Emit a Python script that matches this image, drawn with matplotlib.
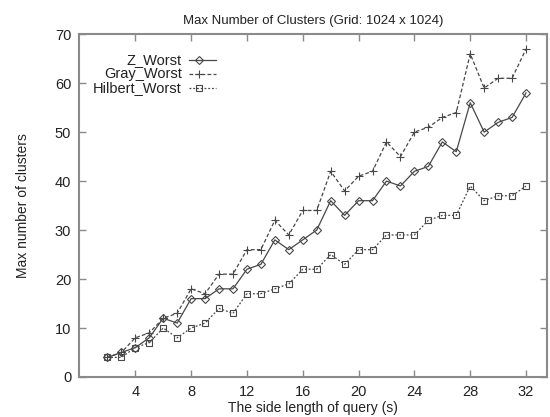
import matplotlib.pyplot as plt
import numpy as np

plt.rcParams['font.family'] = ['Liberation Sans', 'DejaVu Sans']

side = list(range(2, 33))
z_worst = [4, 5, 6, 8, 12, 11, 16, 16, 18, 18, 22, 23, 28, 26, 28, 30, 36, 33, 36, 36,
           40, 39, 42, 43, 48, 46, 56, 50, 52, 53, 58]
gray_worst = [4, 5, 8, 9, 12, 13, 18, 17, 21, 21, 26, 26, 32, 29, 34, 34, 42, 38, 41, 42,
              48, 45, 50, 51, 53, 54, 66, 59, 61, 61, 67]
hilbert_worst = [4, 4, 6, 7, 10, 8, 10, 11, 14, 13, 17, 17, 18, 19, 22, 22, 25, 23, 26, 26,
                 29, 29, 29, 32, 33, 33, 39, 36, 37, 37, 39]
labels = ['Z_Worst', 'Gray_Worst', 'Hilbert_Worst']
xticks = [4, 8, 12, 16, 20, 24, 28, 32]
yticks = [0, 10, 20, 30, 40, 50, 60, 70]

line_col = '#484848'
frame_col = '#8a8a8a'
styles = [
    dict(linestyle='-', marker='D', markersize=3.6),
    dict(linestyle=(0, (3, 1.8)), marker='+', markersize=5.5),
    dict(linestyle=(0, (1.5, 1.5)), marker='s', markersize=4.2),
]

fig = plt.figure(figsize=(5.5, 4.17), dpi=100)
ax = fig.add_axes([0.1445, 0.096, 0.850, 0.822])

series = [z_worst, gray_worst, hilbert_worst]
for vals, st in zip(series, styles):
    ax.plot(side, vals, color=line_col, linewidth=0.9, markerfacecolor='none',
            markeredgecolor=line_col, markeredgewidth=0.8, **st)

# gnuplot-style key: label right-aligned, sample to its right
key_y = [0.924, 0.883, 0.843]
for lab, st, ky in zip(labels, styles, key_y):
    ax.text(0.219, ky, lab, transform=ax.transAxes, ha='right', va='center',
            fontsize=10.5, color='#222222')
    ax.plot([0.235, 0.292], [ky, ky], transform=ax.transAxes, color=line_col,
            linewidth=0.9, linestyle=st['linestyle'])
    ax.plot([0.256], [ky], transform=ax.transAxes, color=line_col, marker=st['marker'],
            markersize=st['markersize'], markerfacecolor='none', markeredgewidth=0.8)

ax.set_xlim(0, 33.5)
ax.set_ylim(0, 70)
ax.set_xticks(xticks)
ax.set_yticks(yticks)
ax.tick_params(direction='in', length=5, width=1, color=frame_col, top=True, right=True,
               labelsize=10.5, labelcolor='#222222', pad=6)
for sp in ax.spines.values():
    sp.set_color(frame_col)
    sp.set_linewidth(1.5)

ax.set_title('Max Number of Clusters (Grid: 1024 x 1024)', fontsize=9.5, color='#222222', pad=7)
ax.set_xlabel('The side length of query (s)', fontsize=10, color='#222222', labelpad=1)
ax.set_ylabel('Max number of clusters', fontsize=10, color='#222222', labelpad=18)

fig.savefig('out.png', dpi=100)
